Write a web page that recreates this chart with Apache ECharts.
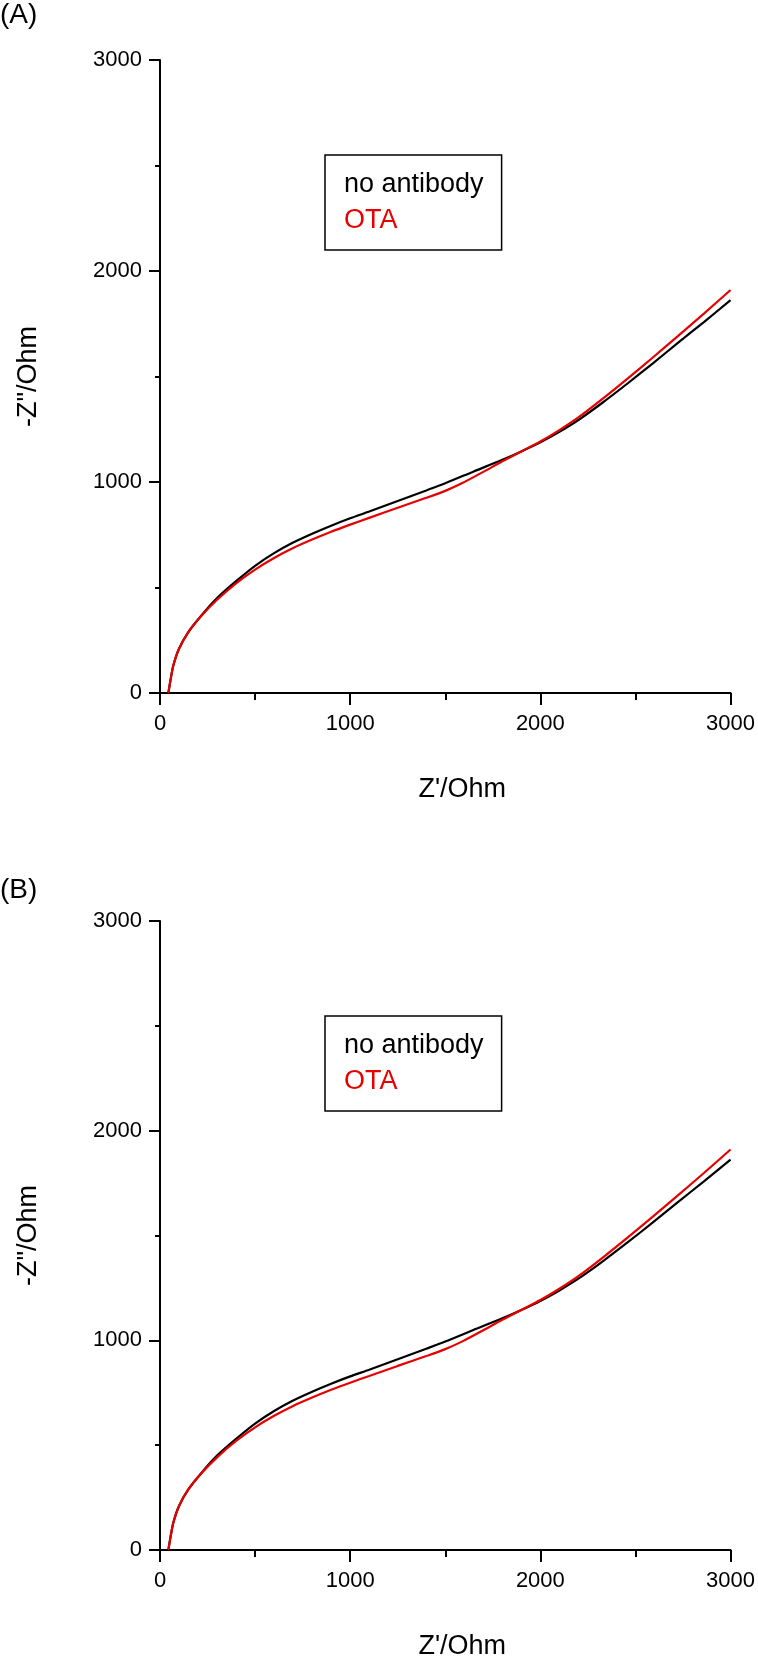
<!DOCTYPE html>
<html>
<head>
<meta charset="utf-8">
<script src="https://cdn.jsdelivr.net/npm/echarts@6/dist/echarts.min.js"></script>
<style>
html,body{margin:0;padding:0;background:#fff;}
#chart{width:758px;height:1661px;}
</style>
</head>
<body>
<div id="chart"></div>
<script>
// Data (Z' in Ohm, -Z'' in Ohm)
const noAntibodyX = [44, 55, 70, 100, 150, 220, 300, 400, 500, 600, 700, 800, 900, 1000, 1100, 1250, 1400, 1500, 1650, 1800, 1900, 2000, 2100, 2200, 2330, 2460, 2590, 2720, 2860, 3000];
const noAntibodyY = [0, 60, 130, 210, 290, 370, 450, 530, 603, 663, 713, 755, 793, 828, 860, 910, 960, 994, 1050, 1105, 1145, 1188, 1238, 1294, 1378, 1468, 1561, 1657, 1758, 1862];
const otaX = [44, 55, 70, 100, 150, 220, 300, 400, 500, 600, 700, 800, 900, 1000, 1100, 1250, 1400, 1500, 1590, 1700, 1800, 1900, 2000, 2100, 2200, 2330, 2460, 2590, 2720, 2860, 3000];
const otaY = [0, 60, 130, 210, 290, 368, 442, 520, 585, 640, 687, 727, 764, 798, 830, 878, 925, 958, 995, 1048, 1098, 1145, 1192, 1246, 1306, 1396, 1491, 1589, 1689, 1798, 1910];
const seriesNames = ['no antibody', 'OTA'];
const panelLabels = ['(A)', '(B)'];
const xTitle = "Z'/Ohm";
const yTitle = '-Z"/Ohm';
const axisMin = 0, axisMax = 3000, axisStep = 1000;

const zip = (xs, ys) => xs.map((x, i) => [x, ys[i]]);
const FONT = "'Liberation Sans', Arial, sans-serif";
const RED = '#e60000';

const grids = [
  {left: 160, top: 60, width: 573, height: 633},
  {left: 160, top: 921, width: 573, height: 633}
];

function xAxisFor(i) {
  return {
    type: 'value', gridIndex: i, min: axisMin, max: axisMax, interval: axisStep,
    name: xTitle, nameLocation: 'middle', nameGap: 83,
    nameTextStyle: {fontFamily: FONT, fontSize: 27, color: '#000', padding: [0, 0, 0, 34]},
    axisLine: {show: true, onZero: false, lineStyle: {color: '#000', width: 2}},
    axisTick: {show: true, length: 12, lineStyle: {color: '#000', width: 2}},
    minorTick: {show: true, splitNumber: 2, length: 7, lineStyle: {color: '#000', width: 2}},
    axisLabel: {fontFamily: FONT, fontSize: 22, color: '#000', margin: 20, formatter: v => String(v)},
    splitLine: {show: false}
  };
}
function yAxisFor(i) {
  return {
    type: 'value', gridIndex: i, min: axisMin, max: axisMax, interval: axisStep,
    name: yTitle, nameLocation: 'middle', nameGap: 118,
    nameTextStyle: {fontFamily: FONT, fontSize: 27, color: '#000'},
    axisLine: {show: true, onZero: false, lineStyle: {color: '#000', width: 2}},
    axisTick: {show: true, length: 11, lineStyle: {color: '#000', width: 2}},
    minorTick: {show: true, splitNumber: 2, length: 5, lineStyle: {color: '#000', width: 2}},
    axisLabel: {fontFamily: FONT, fontSize: 22, color: '#000', margin: 18, formatter: v => String(v)},
    splitLine: {show: false}
  };
}
function legendFor(i) {
  return {
    orient: 'vertical', left: 325, top: grids[i].top + 95,
    padding: [16, 18, 16, 14], itemGap: 9,
    itemWidth: 0, itemHeight: 0, icon: 'rect',
    borderColor: '#000', borderWidth: 1.5, backgroundColor: '#fff',
    selectedMode: false,
    textStyle: {fontFamily: FONT, fontSize: 27, lineHeight: 27},
    data: [
      {name: seriesNames[0], textStyle: {color: '#000'}},
      {name: seriesNames[1], textStyle: {color: RED}}
    ]
  };
}
function seriesFor(i) {
  return [
    {name: seriesNames[0], type: 'line', xAxisIndex: i, yAxisIndex: i, data: zip(noAntibodyX, noAntibodyY),
     showSymbol: false, smooth: 0.25, lineStyle: {color: '#000', width: 2.2}, itemStyle: {color: '#000'}, z: 3},
    {name: seriesNames[1], type: 'line', xAxisIndex: i, yAxisIndex: i, data: zip(otaX, otaY),
     showSymbol: false, smooth: 0.25, lineStyle: {color: RED, width: 2.2}, itemStyle: {color: RED}, z: 4}
  ];
}

const chart = echarts.init(document.getElementById('chart'), null, {renderer: 'canvas'});
chart.setOption({
  animation: false,
  backgroundColor: '#fff',
  grid: grids,
  xAxis: [xAxisFor(0), xAxisFor(1)],
  yAxis: [yAxisFor(0), yAxisFor(1)],
  legend: [legendFor(0), legendFor(1)],
  series: [...seriesFor(0), ...seriesFor(1)],
  graphic: [
    {type: 'text', left: 0, top: 1, style: {text: panelLabels[0], font: '28px ' + FONT, fill: '#000'}},
    {type: 'text', left: 0, top: 876, style: {text: panelLabels[1], font: '28px ' + FONT, fill: '#000'}}
  ]
});
</script>
</body>
</html>
